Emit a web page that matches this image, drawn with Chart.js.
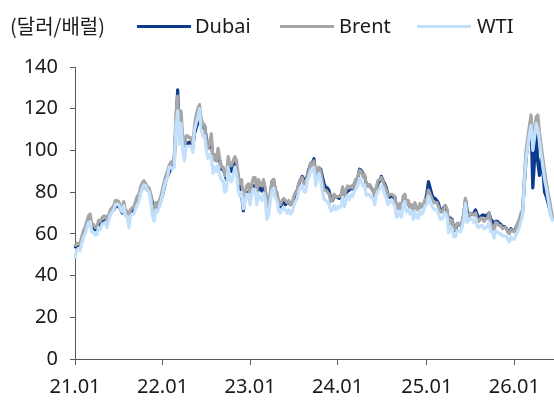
<!DOCTYPE html>
<html>
<head>
<meta charset="utf-8">
<script src="https://cdn.jsdelivr.net/npm/chart.js@4"></script>
<style>
  body { margin: 0; background: #fff; }
  #wrap { position: relative; width: 554px; height: 401px; }
  #legend { position: absolute; left: 0; top: 0; width: 554px; height: 50px;
    font-family: "Noto Sans", "Noto Sans CJK KR", sans-serif; font-size: 20px; color: #1a1a1a; }
  #legend span { position: absolute; top: 13px; line-height: 26px; white-space: nowrap; }
  #legend i { position: absolute; top: 25px; height: 3px; width: 54px; }
  .kr { font-family: "Noto Sans CJK KR", sans-serif; }
</style>
</head>
<body>
<div id="wrap">
  <canvas id="chart" width="554" height="401"></canvas>
  <div id="legend">
    <span class="kr" style="left:10px">(달러/배럴)</span>
    <i style="left:137px;background:#0b3a8f"></i><span style="left:195px">Dubai</span>
    <i style="left:280px;background:#a6a6a6"></i><span style="left:339px">Brent</span>
    <i style="left:417px;background:#c2e0fb"></i><span style="left:477px">WTI</span>
  </div>
</div>
<script>
// 주간 데이터, 2021-01-04 부터
const dubai = [
  53, 54.5, 54.5, 55, 56.5, 60, 62, 63.5, 66, 67.5, 63.5, 63, 62, 62, 64.5, 64, 65.5, 66, 66.5, 65, 67.5, 69.5, 71, 71.5, 73, 73.5,
  73, 72, 70, 73, 70, 69.5, 66.5, 69.5, 71, 71, 73, 75, 77, 80, 82, 83.5, 82.5, 81, 80.5, 78.5, 75, 70, 72.5, 72.5, 73.5, 76,
  78.5, 82, 85.5, 87.5, 89.5, 91.5, 92, 95.5, 112, 129, 108, 112, 106, 100, 104, 103, 104, 104, 101, 108, 111, 113, 118, 114,
  111, 112, 106, 101, 102, 104, 96, 96, 95, 98, 95, 91, 91, 89, 86, 91, 92, 90, 91, 94, 92, 87, 82, 79, 71, 78, 79, 80,
  77, 80, 83, 83, 79, 81.5, 82, 80.5, 83, 81, 73, 74, 77, 85, 86, 81, 79, 73.5, 73, 74.5, 75.5, 74, 75, 75, 74, 74.5,
  76.5, 79, 80.5, 84, 86, 87.5, 86, 85.5, 88, 91, 93.5, 94, 96, 88, 88.5, 91.5, 91, 87.5, 84, 82, 82, 80.5, 77, 76, 78.5, 77.5,
  77.5, 77, 78, 81, 79, 79.5, 80.5, 81, 82, 81.5, 84, 86, 86.5, 91, 90.5, 89, 88, 84, 83, 83.5, 82, 81, 79, 81.5, 84, 85.5,
  87.5, 85.5, 84, 82, 78.5, 77.5, 78, 77.5, 77.5, 73, 72.5, 73, 72, 76, 78, 74, 75, 73, 73.5, 72, 74, 72.5, 72, 73.5, 73, 73.5, 75.5,
  79, 85, 82, 79, 77, 77, 76, 74.5, 71, 71.5, 72.5, 73.5, 71, 66, 67.5, 67, 62.5, 61.5, 64.5, 64.5, 64, 65, 69, 76.5, 71, 68,
  69.5, 69.5, 70, 71.5, 69, 68, 68, 69, 69, 68.5, 69, 70, 67, 66, 64.5, 66, 66, 65, 64.5, 63.5, 63.5, 63, 61.5, 61, 62.5, 61.5,
  61.5, 63, 64.5, 66, 68.5, 71, 84, 96, 103, 108, 112, 82, 95, 108, 94, 88, 96, 90, 80, 78, 75, 72, 68.5, 67
];
const brent = [
  54, 55.5, 55, 55.5, 58.5, 61.5, 63, 66, 68.5, 69.5, 64.5, 64.5, 63, 63, 66.5, 66, 67.5, 68.5, 68.5, 66, 69, 71.5, 72.5, 73.5, 76, 76,
  75.5, 73.5, 72, 75.5, 71, 71, 66, 71.5, 72.5, 73, 75.5, 78, 79, 82.5, 84.5, 85.5, 84, 82.5, 82, 79, 73, 70, 75, 73.5, 76, 78,
  81.5, 85, 88, 90, 93, 94.5, 93.5, 97.5, 118, 126, 108, 119, 106, 101, 107, 107, 106, 106, 103, 112, 117, 120, 122, 115,
  113, 112, 105, 101, 104, 108, 96, 98, 95, 101, 96, 92, 92, 88, 88, 97, 93, 93, 95, 97, 95, 88, 84, 86, 77, 80, 83, 84,
  79, 84, 87, 87, 80, 86, 84, 83, 86, 82, 73, 75, 80, 85, 86, 81, 80, 75, 74, 76, 77, 76, 75, 76, 74, 75,
  78, 80, 81, 84.5, 86, 87, 84, 84, 88, 90, 94, 93, 95, 85, 90, 92, 90, 85, 81, 81, 80, 79, 75.5, 76.5, 79, 77.5,
  78, 78, 78.5, 82.5, 78, 81, 83, 82, 83, 82, 84, 86, 87, 90.5, 90, 87.5, 88.5, 84, 83, 83.5, 82, 81.5, 78, 82, 85.5, 86,
  87, 85, 83, 81, 78, 79, 79, 78.5, 78, 72, 72, 74.5, 72, 78, 79, 74, 76, 73, 74, 71, 75, 72, 71.5, 74.5, 73, 74, 76.5,
  77, 81, 79, 77, 75, 75, 75, 73, 70.5, 70.5, 72, 73.5, 72, 64, 67, 66.5, 62, 62, 65, 65, 64, 66, 70, 77, 68, 68.5,
  70, 69.5, 69, 70, 66.5, 66, 67.5, 67.5, 66, 67, 67.5, 70, 65, 64, 61.5, 65.5, 65, 64, 64, 62.5, 63, 63, 61, 60, 62, 61.5,
  61, 63, 65, 67, 70, 72, 88, 100, 106, 112, 117, 104, 110, 116, 117, 108, 102, 96, 90, 85, 80, 76, 71, 67
];
const wti = [
  48, 52.5, 52.5, 52, 55.5, 58.5, 60, 62.5, 65.5, 66, 61, 60.5, 59.5, 59.5, 63, 62, 64.5, 65, 65.5, 63, 66.5, 69, 70.5, 71.5, 74, 74,
  74, 72, 70.5, 73.5, 68.5, 68.5, 63, 68.5, 69.5, 69.5, 72, 74, 75.5, 79.5, 82, 83.5, 83, 81, 80, 76, 68.5, 66, 71.5, 70.5, 73, 75.5,
  78.5, 82.5, 85.5, 87, 92, 92, 91, 92, 112, 119, 103, 113, 100, 95, 102, 102, 102, 102, 99, 110, 113, 116, 120, 110,
  107, 107, 100, 96, 98, 97, 89, 92, 90, 93, 88, 86, 85, 80, 81, 92, 86, 85, 88, 92, 88, 81, 78, 80, 72, 75, 79, 79,
  74, 79, 81.5, 81, 74, 79.5, 77, 76, 79.5, 76.5, 67, 69, 75.5, 80.5, 82, 77.5, 76, 71, 70, 72, 72.5, 71.5, 70, 71.5, 69.5, 70.5,
  73.5, 75.5, 77, 80.5, 82.5, 83, 80.5, 80, 85.5, 87.5, 90.5, 90, 92, 83, 86.5, 89, 85.5, 80.5, 76.5, 76, 75.5, 74, 71, 71.5, 73.5, 71.5,
  73, 72.5, 73.5, 77.5, 73, 76, 78.5, 76.5, 79, 78, 80.5, 81.5, 83, 86.5, 85.5, 83, 83.5, 78.5, 78.5, 79, 77.5, 77, 74, 78.5, 80.5, 81.5,
  83, 82, 79, 77, 74, 75.5, 76.5, 74.5, 73.5, 68, 68.5, 71, 68, 74, 75.5, 70.5, 71.5, 69.5, 70.5, 67, 71, 68, 67.5, 71, 69.5, 70.5, 73.5,
  74, 78, 76, 73.5, 72, 71.5, 71.5, 69.5, 67, 67, 68.5, 70, 68.5, 60.5, 63.5, 62.5, 58.5, 58.5, 61.5, 61.5, 61, 63, 67, 74.5, 65.5, 66.5,
  67.5, 67, 65.5, 67.5, 63.5, 63, 64, 64, 62.5, 63, 63.5, 65.5, 61, 61, 58, 61.5, 61, 60, 60, 59, 59, 59, 57.5, 56, 58.5, 57.5,
  57.5, 59.5, 61, 63, 66, 69, 85, 96, 102, 108, 112, 100, 106, 113, 110, 104, 98, 92, 86, 82, 77, 72, 68, 66
];
const yTicks = { min: 0, max: 140, step: 20 };

// x축 라벨: 주 단위 "YY.MM"
const firstWeek = Date.UTC(2021, 0, 4);
const weeks = brent.map((_, i) => {
  const d = new Date(firstWeek + i * 7 * 86400000);
  return String(d.getUTCFullYear()).slice(2) + '.' + String(d.getUTCMonth() + 1).padStart(2, '0');
});

const FONT = { family: '"Noto Sans", "Noto Sans CJK KR", sans-serif', size: 20 };
const AXIS = '#595959';

new Chart(document.getElementById('chart'), {
  type: 'line',
  data: {
    labels: weeks,
    datasets: [
      { label: 'Dubai', data: dubai, borderColor: '#0b3a8f', order: 3 },
      { label: 'Brent', data: brent, borderColor: '#a6a6a6', order: 2 },
      { label: 'WTI', data: wti, borderColor: '#c2e0fb', order: 1 }
    ]
  },
  options: {
    responsive: false,
    animation: false,
    layout: { padding: { top: 67, left: 0, right: 1, bottom: 0 } },
    elements: {
      point: { radius: 0 },
      line: { borderWidth: 3.2, tension: 0, borderJoinStyle: 'round' }
    },
    plugins: { legend: { display: false }, tooltip: { enabled: false } },
    scales: {
      x: {
        offset: false,
        afterBuildTicks: s => {
          s.ticks = s.ticks.filter(t => weeks[t.value].endsWith('.01') &&
            (t.value === 0 || weeks[t.value - 1] !== weeks[t.value]));
        },
        afterFit: s => { s.height = 42; },
        ticks: { autoSkip: false, maxRotation: 0, color: '#1a1a1a', font: FONT, padding: 10 },
        grid: { drawOnChartArea: false, drawTicks: true, tickLength: 6, color: AXIS },
        border: { color: AXIS }
      },
      y: {
        min: yTicks.min,
        max: yTicks.max,
        afterFit: s => { s.width = 75; },
        ticks: { stepSize: yTicks.step, color: '#1a1a1a', font: FONT, padding: 12 },
        grid: { drawOnChartArea: false, drawTicks: true, tickLength: 5, color: AXIS },
        border: { color: AXIS }
      }
    }
  }
});
</script>
</body>
</html>
